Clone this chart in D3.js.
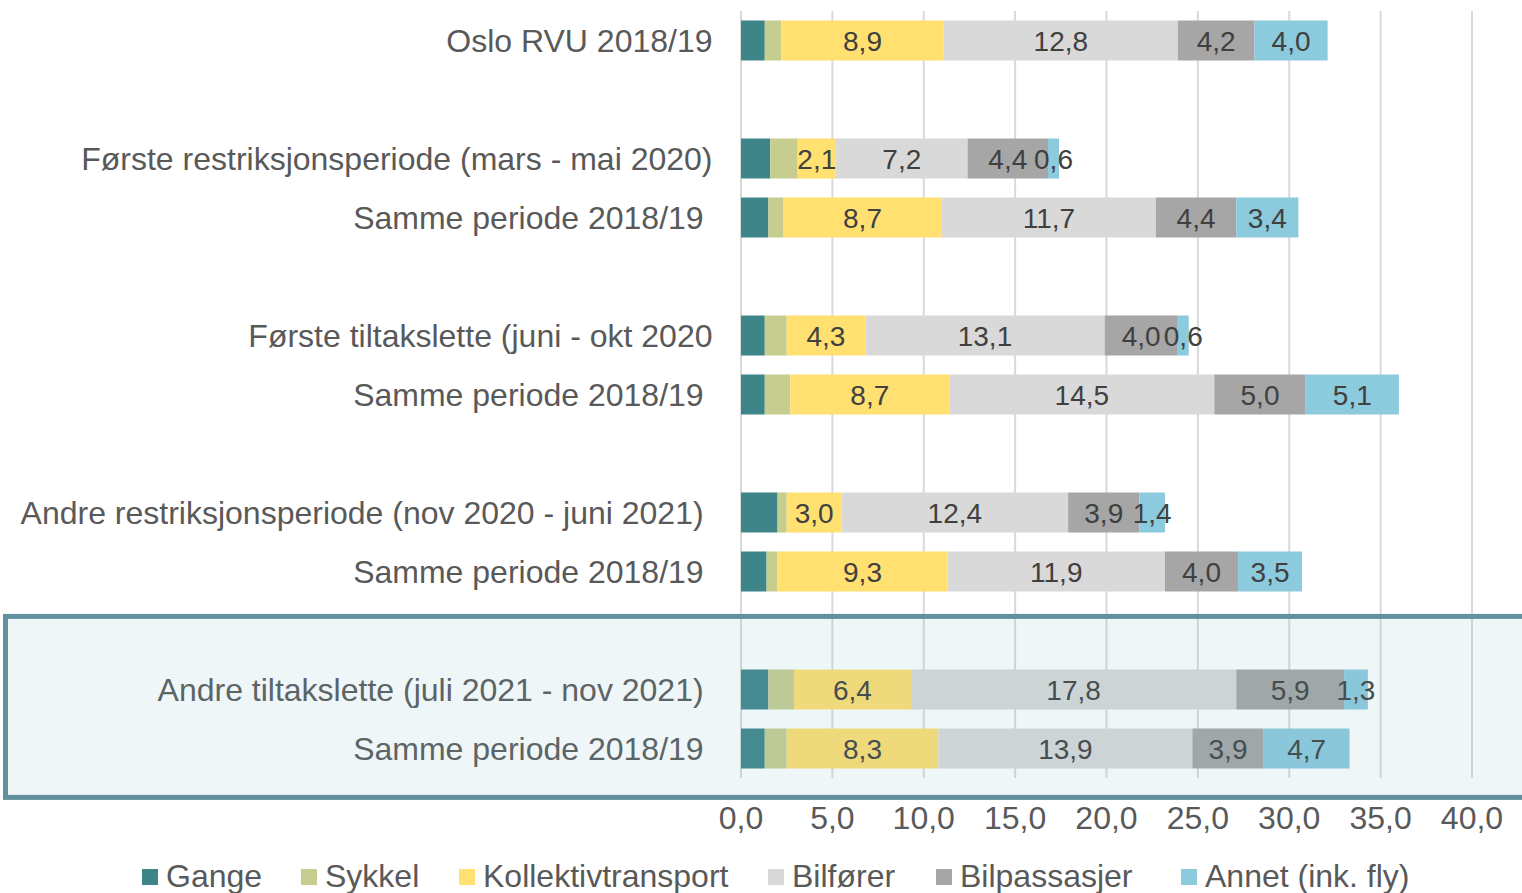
<!DOCTYPE html>
<html>
<head>
<meta charset="utf-8">
<script src="https://cdn.jsdelivr.net/npm/d3@7"></script>
<style>
  html, body { margin: 0; padding: 0; background: #ffffff; }
  svg { display: block; font-family: "Liberation Sans", Arial, sans-serif; }
  text { white-space: pre; }
</style>
</head>
<body>
<svg id="chart" width="1522" height="893"></svg>
<script>
// ---- Data ----
const categories = [
  "Oslo RVU 2018/19",
  "",
  "Første restriksjonsperiode (mars - mai 2020)",
  "Samme periode 2018/19 ",
  "",
  "Første tiltakslette (juni - okt 2020",
  "Samme periode 2018/19 ",
  "",
  "Andre restriksjonsperiode (nov 2020 - juni 2021) ",
  "Samme periode 2018/19 ",
  "",
  "Andre tiltakslette (juli 2021 - nov 2021) ",
  "Samme periode 2018/19 "
];
const seriesNames = ["Gange", "Sykkel", "Kollektivtransport", "Bilfører", "Bilpassasjer", "Annet (ink. fly)"];
const gange      = [1.3, null, 1.6, 1.5, null, 1.3, 1.3, null, 2.0, 1.4, null, 1.5, 1.3];
const sykkel     = [0.9, null, 1.5, 0.8, null, 1.2, 1.4, null, 0.5, 0.6, null, 1.4, 1.2];
const kollektiv  = [8.9, null, 2.1, 8.7, null, 4.3, 8.7, null, 3.0, 9.3, null, 6.4, 8.3];
const bilforer   = [12.8, null, 7.2, 11.7, null, 13.1, 14.5, null, 12.4, 11.9, null, 17.8, 13.9];
const bilpass    = [4.2, null, 4.4, 4.4, null, 4.0, 5.0, null, 3.9, 4.0, null, 5.9, 3.9];
const annet      = [4.0, null, 0.6, 3.4, null, 0.6, 5.1, null, 1.4, 3.5, null, 1.3, 4.7];
const labelledSeries = ["Kollektivtransport", "Bilfører", "Bilpassasjer", "Annet (ink. fly)"];
const xTicks = [0, 5, 10, 15, 20, 25, 30, 35, 40];
const highlightRows = [11, 12];

// ---- Styles / layout ----
const colors = ["#3e8589", "#c6cd8f", "#ffe071", "#d9d9d9", "#a6a6a6", "#8ccadd"];
const legendX = [142, 301, 459, 768, 936, 1181];

const svg = d3.select("#chart");
const plot = { left: 741, right: 1472, top: 11, bottom: 778 };

const valuesBySeries = [gange, sykkel, kollektiv, bilforer, bilpass, annet];
const rows = categories.map((c, i) => {
  const r = { idx: i, cat: c };
  seriesNames.forEach((s, k) => { r[s] = valuesBySeries[k][i]; });
  return r;
});

const x = d3.scaleLinear().domain([0, 40]).range([plot.left, plot.right]);
const y = d3.scaleBand().domain(d3.range(categories.length))
  .range([plot.top, plot.bottom]).paddingInner(0.322).paddingOuter(0.161);
const color = d3.scaleOrdinal().domain(seriesNames).range(colors);
const fmt = v => d3.format(".1f")(v).replace(".", ",");

// gridlines
svg.append("g").selectAll("line").data(xTicks).join("line")
  .attr("x1", d => x(d)).attr("x2", d => x(d))
  .attr("y1", plot.top).attr("y2", plot.bottom)
  .attr("stroke", "#d9d9d9").attr("stroke-width", 2);

// stacked bars
const stack = d3.stack().keys(seriesNames).value((d, k) => d[k] || 0);
const stacked = stack(rows.filter(r => r.cat !== ""));

const layers = svg.append("g").selectAll("g").data(stacked).join("g")
  .attr("fill", d => color(d.key));
layers.selectAll("rect").data(d => d).join("rect")
  .attr("x", d => x(d[0]))
  .attr("y", d => y(d.data.idx))
  .attr("width", d => x(d[1]) - x(d[0]))
  .attr("height", y.bandwidth());

// value labels
const labelLayers = svg.append("g").selectAll("g")
  .data(stacked.filter(s => labelledSeries.includes(s.key))).join("g");
labelLayers.selectAll("text").data(d => d.map(p => ({ p, key: d.key }))).join("text")
  .attr("x", d => (x(d.p[0]) + x(d.p[1])) / 2)
  .attr("y", d => y(d.p.data.idx) + y.bandwidth() / 2)
  .attr("dy", "0.37em")
  .attr("text-anchor", "middle")
  .attr("font-size", 28)
  .attr("fill", "#404040")
  .text(d => fmt(d.p.data[d.key]));

// category labels
svg.append("g").selectAll("text").data(rows.filter(r => r.cat !== "")).join("text")
  .attr("x", 712.5)
  .attr("y", d => y(d.idx) + y.bandwidth() / 2)
  .attr("dy", "0.36em")
  .attr("text-anchor", "end")
  .attr("font-size", 32)
  .attr("fill", "#595959")
  .text(d => d.cat);

// highlight box over the last group
const hy0 = y(highlightRows[0]) - y.step() * 0.9;
const hy1 = y(highlightRows[highlightRows.length - 1]) + y.bandwidth() + y.step() * 0.49;
svg.append("rect")
  .attr("x", 5.5).attr("y", hy0)
  .attr("width", 1600).attr("height", hy1 - hy0)
  .attr("fill", "rgba(120,180,200,0.12)")
  .attr("stroke", "#63909e").attr("stroke-width", 5);

// x axis tick labels
svg.append("g").selectAll("text").data(xTicks).join("text")
  .attr("x", d => x(d)).attr("y", 829)
  .attr("text-anchor", "middle")
  .attr("font-size", 32)
  .attr("fill", "#595959")
  .text(d => fmt(d));

// legend
const legend = svg.append("g").selectAll("g").data(seriesNames).join("g")
  .attr("transform", (d, i) => `translate(${legendX[i]},869)`);
legend.append("rect").attr("width", 16).attr("height", 16).attr("fill", d => color(d));
legend.append("text").attr("x", 24).attr("y", 18).attr("font-size", 32)
  .attr("fill", "#595959").text(d => d);
</script>
</body>
</html>
